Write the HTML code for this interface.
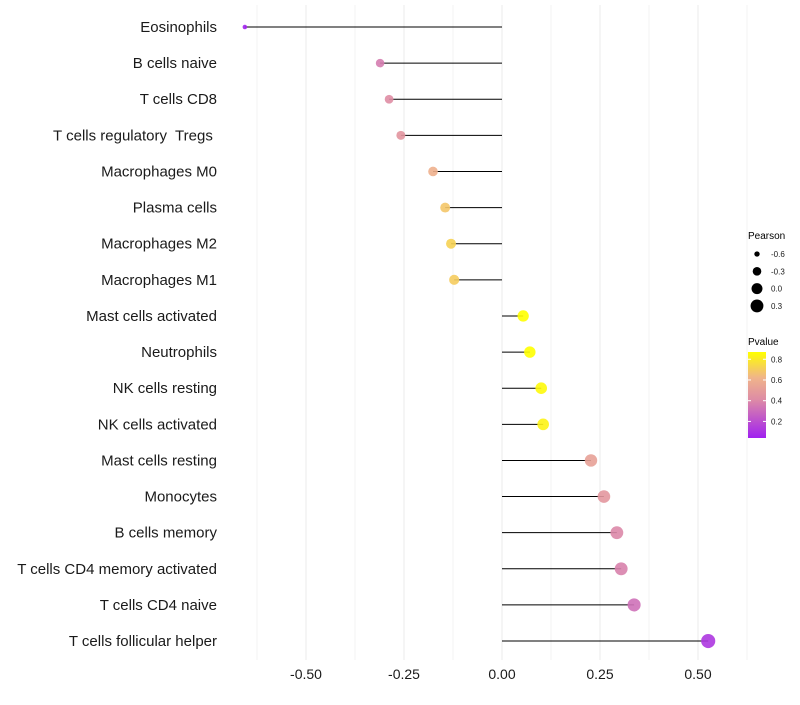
<!DOCTYPE html>
<html><head><meta charset="utf-8"><style>
body{margin:0;background:#fff;font-family:"Liberation Sans",sans-serif;}
text{white-space:pre;}
</style></head><body>
<svg id="c" width="800" height="700" xmlns="http://www.w3.org/2000/svg"></svg>
<script>
const cells=["Eosinophils","B cells naive","T cells CD8","T cells regulatory  Tregs ","Macrophages M0","Plasma cells","Macrophages M2","Macrophages M1","Mast cells activated","Neutrophils","NK cells resting","NK cells activated","Mast cells resting","Monocytes","B cells memory","T cells CD4 memory activated","T cells CD4 naive","T cells follicular helper"];
const pearson=[-0.656,-0.311,-0.288,-0.258,-0.176,-0.145,-0.130,-0.122,0.054,0.071,0.100,0.105,0.227,0.260,0.293,0.304,0.337,0.526];
const pvalue=[0.05,0.36,0.42,0.46,0.6,0.68,0.72,0.7,0.9,0.88,0.85,0.83,0.52,0.47,0.4,0.38,0.32,0.12];
const xTicks=[-0.5,-0.25,0,0.25,0.5];
const xTickLabels=["-0.50","-0.25","0.00","0.25","0.50"];
const sizeLegend=[-0.6,-0.3,0.0,0.3];
const sizeLegendLabels=["-0.6","-0.3","0.0","0.3"];
const pLegend=[0.8,0.6,0.4,0.2];
const svg=document.getElementById('c');
const NS='http://www.w3.org/2000/svg';
function x(v){return 502+392*v;}
function y(i){return 27+i*36.12;}
function r(v){return Math.sqrt(Math.max(2.2,30+38*v));}
function lerp(a,b,t){return Math.round(a+(b-a)*t);}
function col(p){let t=(p-0.04)/(0.87-0.04);t=Math.max(0,Math.min(1,t));
 const s=[[0,[160,32,240]],[0.45,[222,140,165]],[0.7,[240,180,138]],[1,[255,255,0]]];
 let k=0;while(k<s.length-2&&t>s[k+1][0])k++;let a=s[k],b=s[k+1];let u=(t-a[0])/(b[0]-a[0]);
 return `rgb(${lerp(a[1][0],b[1][0],u)},${lerp(a[1][1],b[1][1],u)},${lerp(a[1][2],b[1][2],u)})`;}
function mk(tag,attrs,parent){const e=document.createElementNS(NS,tag);for(const k in attrs)e.setAttribute(k,attrs[k]);(parent||svg).appendChild(e);return e;}
for(let g=-0.625;g<=0.626;g+=0.125){const l=mk('line',{x1:x(g),x2:x(g),y1:5,y2:660,stroke:'#ebebeb','stroke-width':Math.abs((g*4)%1)<0.01?1:0.6});

}
cells.forEach((c,i)=>{
 const t=mk('text',{x:217,y:y(i)+5,'text-anchor':'end','font-size':15,fill:'#1a1a1a'});t.textContent=c;
 
 
 const l=mk('line',{x1:x(0),x2:x(pearson[i]),y1:y(i),y2:y(i),stroke:'#000','stroke-width':1});
 
 
 const p=mk('circle',{cx:x(pearson[i]),cy:y(i),r:r(pearson[i]),fill:col(pvalue[i]),'fill-opacity':0.9});
 
 
});
xTicks.forEach((v,i)=>{const t=mk('text',{x:x(v),y:679,'text-anchor':'middle','font-size':14,fill:'#1a1a1a'});t.textContent=xTickLabels[i];
 
 });
let t=mk('text',{x:748,y:239,'font-size':10,fill:'#000'});t.textContent='Pearson';


sizeLegend.forEach((v,i)=>{const cy=254+i*17.3;
 const c=mk('circle',{cx:757,cy:cy,r:r(v),fill:'#000'});
 
 
 const tt=mk('text',{x:771,y:cy+3,'font-size':8,fill:'#1a1a1a'});tt.textContent=sizeLegendLabels[i];
 
 });
t=mk('text',{x:748,y:345,'font-size':10,fill:'#000'});t.textContent='Pvalue';


const defs=mk('defs',{});const lg=mk('linearGradient',{id:'g',x1:0,y1:1,x2:0,y2:0},defs);
[[0,'#a020f0'],[0.45,'#de8ca5'],[0.7,'#f0b48a'],[1,'#ffff00']].forEach(s=>mk('stop',{offset:s[0],'stop-color':s[1]},lg));
const bar=mk('rect',{x:748,y:352,width:18,height:86,fill:'url(#g)'});


pLegend.forEach(p=>{const yy=438-(p-0.04)/(0.87-0.04)*86;
 mk('line',{x1:748,x2:751,y1:yy,y2:yy,stroke:'#fff'});mk('line',{x1:763,x2:766,y1:yy,y2:yy,stroke:'#fff'});
 const tt=mk('text',{x:771,y:yy+3,'font-size':8,fill:'#1a1a1a'});tt.textContent=p.toFixed(1);
 
 });
</script>
</body></html>
